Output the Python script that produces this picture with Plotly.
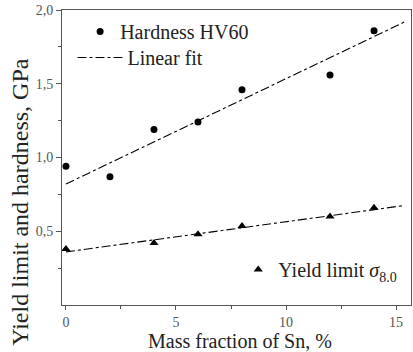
import plotly.graph_objects as go

# Measured data
sn_fraction = [0, 2, 4, 6, 8, 12, 14]
hardness = [0.94, 0.87, 1.19, 1.24, 1.46, 1.56, 1.86]

sn_yield = [0, 4, 6, 8, 12, 14]
yield_limit = [0.38, 0.42, 0.48, 0.535, 0.60, 0.66]

# Linear fit lines (end points)
fit_x = [0, 15.4]
hardness_fit = [0.82, 1.92]
yield_fit = [0.36, 0.675]

x_ticks = [0, 5, 10, 15]
y_ticks = [0.5, 1.0, 1.5, 2.0]

SERIF = "Liberation Serif"
TEXT = "#222"
AXIS = "#555"

fig = go.Figure()

fig.add_trace(go.Scatter(
    x=sn_fraction, y=hardness, mode="markers", name="Hardness HV60",
    marker=dict(symbol="circle", size=7, color="black"),
    legend="legend",
))
fig.add_trace(go.Scatter(
    x=fit_x, y=hardness_fit, mode="lines", name="Linear fit",
    line=dict(color="black", width=1.1, dash="dashdot"),
    legend="legend3",
))
fig.add_trace(go.Scatter(
    x=fit_x, y=yield_fit, mode="lines", showlegend=False,
    line=dict(color="black", width=1.1, dash="dashdot"),
))
fig.add_trace(go.Scatter(
    x=sn_yield, y=yield_limit, mode="markers",
    name="Yield limit <i>σ</i><sub>8.0</sub>",
    marker=dict(symbol="triangle-up", size=8, color="black"),
    legend="legend2",
))

axis_common = dict(
    showline=True, linecolor=AXIS, linewidth=1, mirror=True,
    showgrid=False, zeroline=False, ticks="outside",
    tickcolor=AXIS, tickfont=dict(family=SERIF, size=14, color=AXIS),
)

fig.update_xaxes(
    range=[-0.18, 15.68], tickvals=x_ticks, ticklabelstandoff=0, ticklen=4,
    minor=dict(tickvals=[2.5, 7.5, 12.5], ticks="outside", ticklen=3, tickcolor=AXIS),
    **axis_common,
)
fig.update_yaxes(
    range=[0, 2.0], tickvals=y_ticks, tickformat=".1f", ticklen=5,
    minor=dict(tickvals=[0.25, 0.75, 1.25, 1.75], ticks="outside", ticklen=3, tickcolor=AXIS),
    **axis_common,
)

# Axis titles
fig.add_annotation(
    text="Mass fraction of Sn, %",
    xref="paper", yref="paper", x=0.51, y=-0.122,
    xanchor="center", yanchor="middle", showarrow=False,
    font=dict(family=SERIF, size=20, color=TEXT),
)
fig.add_annotation(
    text="Yield limit and hardness, GPa", textangle=-90,
    xref="paper", yref="paper", x=-0.12, y=0.35,
    xanchor="center", yanchor="middle", showarrow=False,
    font=dict(family=SERIF, size=24, color=TEXT),
)

legend_font = dict(family=SERIF, size=20, color=TEXT)
fig.update_layout(
    width=413, height=352,
    margin=dict(l=62, r=2, t=10, b=47),
    paper_bgcolor="white", plot_bgcolor="white",
    separators=",.",
    font=dict(family=SERIF, color=TEXT),
    showlegend=True,
    legend=dict(
        x=0.052, y=0.927, xanchor="left", yanchor="middle",
        bgcolor="rgba(0,0,0,0)", font=legend_font,
    ),
    legend3=dict(
        x=0.03, y=0.839, xanchor="left", yanchor="middle",
        bgcolor="rgba(0,0,0,0)", font=legend_font, itemwidth=45,
    ),
    legend2=dict(
        x=0.505, y=0.12, xanchor="left", yanchor="middle",
        bgcolor="rgba(0,0,0,0)", font=legend_font,
    ),
)

fig.write_html("out.html")
